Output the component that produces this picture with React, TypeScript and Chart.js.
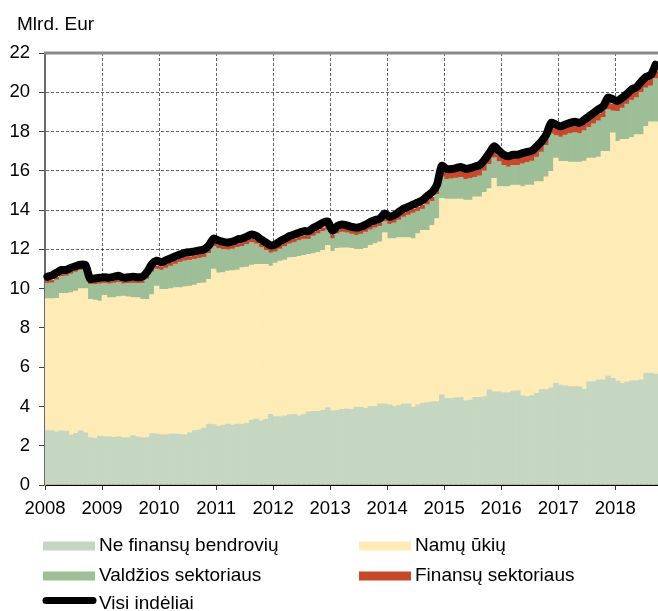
import React, { useEffect, useRef } from 'react';
import { Chart, registerables } from 'chart.js';

Chart.register(...registerables);

const FONT = '"Liberation Sans", Arial, Helvetica, sans-serif';

const years = ['2008', '2009', '2010', '2011', '2012', '2013', '2014', '2015', '2016', '2017', '2018'];
const monthsLastYear = 9;

const seriesNames = ['Ne finansų bendrovių', 'Namų ūkių', 'Valdžios sektoriaus', 'Finansų sektoriaus', 'Visi indėliai'];
const yAxisTitle = 'Mlrd. Eur';

// Ne finansų bendrovių (bn EUR), monthly Jan 2008 – Sep 2018
const neFinansuBendroviu = [
  2.77, 2.77, 2.71, 2.76, 2.74, 2.55, 2.63, 2.76, 2.66, 2.41, 2.38, 2.49,
  2.46, 2.46, 2.43, 2.46, 2.41, 2.41, 2.51, 2.45, 2.41, 2.41, 2.62, 2.60,
  2.56, 2.56, 2.60, 2.60, 2.58, 2.56, 2.66, 2.77, 2.80, 2.90, 3.10, 3.08,
  3.00, 3.05, 3.10, 3.05, 3.10, 3.10, 3.15, 3.30, 3.36, 3.26, 3.35, 3.60,
  3.48, 3.48, 3.52, 3.58, 3.60, 3.52, 3.60, 3.72, 3.75, 3.75, 3.80, 3.94,
  3.77, 3.80, 3.85, 3.87, 3.85, 3.96, 3.96, 3.91, 4.00, 4.00, 4.13, 4.13,
  4.08, 4.00, 4.05, 4.13, 4.13, 3.96, 4.08, 4.16, 4.20, 4.24, 4.25, 4.60,
  4.41, 4.41, 4.44, 4.46, 4.29, 4.32, 4.46, 4.46, 4.50, 4.84, 4.75, 4.75,
  4.70, 4.70, 4.78, 4.80, 4.55, 4.50, 4.55, 4.67, 4.87, 4.87, 4.95, 5.18,
  5.09, 5.05, 5.01, 5.01, 5.00, 4.87, 5.26, 5.26, 5.35, 5.35, 5.55, 5.43,
  5.30, 5.18, 5.25, 5.31, 5.31, 5.35, 5.69, 5.69, 5.65,
];

// Namų ūkių
const namuUkiu = [
  6.72, 6.72, 6.79, 7.00, 7.02, 7.25, 7.25, 7.24, 7.34, 7.04, 7.04, 6.88,
  7.20, 7.08, 7.11, 7.14, 7.21, 7.17, 7.03, 7.09, 7.04, 7.04, 7.08, 7.53,
  7.40, 7.40, 7.40, 7.45, 7.47, 7.54, 7.47, 7.41, 7.47, 7.40, 7.37, 7.92,
  7.80, 7.77, 7.80, 7.87, 7.85, 7.97, 7.95, 7.90, 7.88, 7.98, 7.89, 7.55,
  7.82, 7.92, 7.93, 8.00, 8.00, 8.13, 8.10, 8.03, 8.03, 8.10, 8.15, 8.26,
  8.13, 8.25, 8.23, 8.21, 8.20, 8.04, 8.04, 8.14, 8.20, 8.30, 8.25, 8.72,
  8.47, 8.55, 8.55, 8.47, 8.47, 8.59, 8.72, 8.81, 8.77, 8.99, 9.32, 10.00,
  10.15, 10.15, 10.12, 10.10, 10.22, 10.19, 10.22, 10.22, 10.40, 10.26, 10.87, 10.45,
  10.50, 10.50, 10.50, 10.48, 10.65, 10.78, 10.73, 10.78, 10.58, 10.83, 11.02, 11.47,
  11.39, 11.43, 11.44, 11.44, 11.45, 11.63, 11.39, 11.39, 11.35, 11.64, 11.44, 12.50,
  12.20, 12.42, 12.35, 12.39, 12.54, 12.50, 12.58, 12.81, 12.85,
];

// Valdžios sektoriaus
const valdziosSektoriaus = [
  0.79, 0.81, 0.95, 0.86, 0.89, 0.95, 0.97, 0.95, 0.95, 0.77, 0.80, 0.88,
  0.62, 0.71, 0.74, 0.72, 0.63, 0.69, 0.74, 0.73, 0.83, 1.05, 1.15, 0.87,
  0.99, 1.09, 1.15, 1.20, 1.30, 1.32, 1.32, 1.32, 1.28, 1.30, 1.33, 1.15,
  1.25, 1.18, 1.08, 1.10, 1.15, 1.08, 1.15, 1.15, 1.04, 0.86, 0.71, 0.67,
  0.58, 0.62, 0.70, 0.70, 0.75, 0.80, 0.82, 0.77, 0.90, 0.95, 0.97, 0.80,
  0.65, 0.75, 0.80, 0.77, 0.73, 0.72, 0.78, 0.83, 0.80, 0.80, 0.80, 0.57,
  0.73, 0.80, 0.90, 1.05, 1.15, 1.30, 1.15, 1.08, 1.31, 1.22, 1.23, 1.10,
  1.01, 1.04, 1.07, 1.11, 1.06, 1.10, 0.99, 1.07, 1.10, 1.23, 1.05, 1.27,
  1.08, 1.00, 1.00, 1.00, 1.16, 1.15, 1.22, 1.25, 1.51, 1.60, 1.91, 1.15,
  1.24, 1.34, 1.45, 1.50, 1.45, 1.55, 1.57, 1.75, 1.85, 1.73, 2.13, 1.12,
  1.53, 1.60, 1.80, 1.90, 1.88, 2.15, 1.96, 1.83, 2.20,
];

// Finansų sektoriaus
const finansuSektoriaus = [
  0.12, 0.12, 0.13, 0.12, 0.12, 0.13, 0.12, 0.12, 0.13, 0.11, 0.10, 0.10,
  0.10, 0.10, 0.11, 0.10, 0.10, 0.11, 0.10, 0.10, 0.11, 0.12, 0.15, 0.15,
  0.17, 0.18, 0.18, 0.18, 0.19, 0.18, 0.18, 0.18, 0.19, 0.18, 0.18, 0.20,
  0.18, 0.18, 0.19, 0.18, 0.18, 0.18, 0.19, 0.18, 0.18, 0.18, 0.18, 0.20,
  0.18, 0.18, 0.18, 0.19, 0.18, 0.18, 0.18, 0.18, 0.19, 0.18, 0.18, 0.18,
  0.18, 0.18, 0.18, 0.18, 0.19, 0.18, 0.18, 0.18, 0.18, 0.19, 0.18, 0.20,
  0.20, 0.20, 0.20, 0.21, 0.20, 0.20, 0.20, 0.21, 0.20, 0.20, 0.22, 0.25,
  0.33, 0.34, 0.35, 0.34, 0.35, 0.35, 0.34, 0.35, 0.35, 0.36, 0.35, 0.35,
  0.35, 0.35, 0.35, 0.36, 0.35, 0.35, 0.35, 0.35, 0.36, 0.35, 0.35, 0.35,
  0.35, 0.35, 0.36, 0.35, 0.35, 0.35, 0.35, 0.36, 0.35, 0.35, 0.35, 0.35,
  0.35, 0.36, 0.35, 0.35, 0.35, 0.35, 0.36, 0.35, 0.35,
];

// Visi indėliai (total deposits line)
const visiIndeliai = [
  10.60, 10.68, 10.82, 10.95, 10.95, 11.07, 11.15, 11.22, 11.20, 10.50, 10.52, 10.55,
  10.58, 10.56, 10.60, 10.66, 10.56, 10.58, 10.60, 10.58, 10.60, 10.85, 11.25, 11.42,
  11.35, 11.45, 11.55, 11.65, 11.75, 11.82, 11.86, 11.90, 11.95, 12.00, 12.20, 12.55,
  12.45, 12.38, 12.35, 12.40, 12.50, 12.55, 12.65, 12.76, 12.68, 12.50, 12.34, 12.20,
  12.25, 12.42, 12.54, 12.68, 12.76, 12.85, 12.93, 12.93, 13.10, 13.22, 13.36, 13.42,
  12.95, 13.19, 13.27, 13.22, 13.15, 13.10, 13.15, 13.26, 13.40, 13.49, 13.57, 13.83,
  13.66, 13.74, 13.91, 14.08, 14.17, 14.29, 14.39, 14.51, 14.73, 14.92, 15.30, 16.25,
  16.10, 16.09, 16.14, 16.20, 16.10, 16.14, 16.22, 16.30, 16.56, 16.90, 17.25, 17.03,
  16.82, 16.74, 16.82, 16.82, 16.90, 16.96, 17.03, 17.25, 17.50, 17.85, 18.44, 18.36,
  18.27, 18.36, 18.44, 18.50, 18.44, 18.60, 18.78, 18.96, 19.13, 19.30, 19.73, 19.64,
  19.56, 19.73, 19.93, 20.15, 20.27, 20.55, 20.79, 20.89, 21.40,
];

const yMin = 0;
const yMax = 22;
const yStep = 2;

const COLORS = ['#c5d6c1', '#feebb6', '#9dbe97', '#c9472a', '#000000'];

const monthLabels: string[] = [];
years.forEach((y, yi) => {
  const n = yi === years.length - 1 ? monthsLastYear : 12;
  for (let m = 1; m <= n; m++) monthLabels.push(`${y}-${String(m).padStart(2, '0')}`);
});

const decorPlugin = {
  id: 'decor',
  afterDraw(chart: any) {
    const { ctx, chartArea } = chart;
    ctx.save();
    // top frame line
    ctx.strokeStyle = '#8a8a8a';
    ctx.lineWidth = 3;
    ctx.beginPath();
    ctx.moveTo(chartArea.left - 1, chartArea.top);
    ctx.lineTo(chartArea.right, chartArea.top);
    ctx.stroke();

    ctx.font = `19px ${FONT}`;
    ctx.fillStyle = '#000';
    ctx.textBaseline = 'middle';
    ctx.textAlign = 'left';
    ctx.fillText(yAxisTitle, 17, 25);

    // legend
    const items = [
      { i: 0, x: 43, y: 545.5, kind: 'box' },
      { i: 1, x: 359, y: 545.5, kind: 'box' },
      { i: 2, x: 43, y: 575.5, kind: 'box' },
      { i: 3, x: 359, y: 575.5, kind: 'box' },
      { i: 4, x: 43, y: 603.5, kind: 'line' },
    ];
    items.forEach((it) => {
      if (it.kind === 'box') {
        ctx.fillStyle = COLORS[it.i];
        ctx.fillRect(it.x, it.y - 4, 52, 9);
      } else {
        ctx.strokeStyle = '#000';
        ctx.lineWidth = 7;
        ctx.lineCap = 'round';
        ctx.beginPath();
        ctx.moveTo(it.x + 3, it.y - 3);
        ctx.lineTo(it.x + 50, it.y - 3);
        ctx.stroke();
      }
      ctx.fillStyle = '#000';
      ctx.fillText(seriesNames[it.i], it.x + 56, it.y);
    });
    ctx.restore();
  },
};

export default function App() {
  const ref = useRef<HTMLCanvasElement | null>(null);

  useEffect(() => {
    if (!ref.current) return;
    Chart.defaults.font.family = FONT;
    const gridColor = 'rgba(0,0,0,0.6)';
    const chart = new Chart(ref.current, {
      type: 'bar',
      data: {
        labels: monthLabels,
        datasets: [
          { label: seriesNames[0], data: neFinansuBendroviu, backgroundColor: COLORS[0], stack: 's', order: 1 },
          { label: seriesNames[1], data: namuUkiu, backgroundColor: COLORS[1], stack: 's', order: 1 },
          { label: seriesNames[2], data: valdziosSektoriaus, backgroundColor: COLORS[2], stack: 's', order: 1 },
          { label: seriesNames[3], data: finansuSektoriaus, backgroundColor: COLORS[3], stack: 's', order: 1 },
          {
            type: 'line',
            label: seriesNames[4],
            data: visiIndeliai,
            borderColor: COLORS[4],
            backgroundColor: COLORS[4],
            borderWidth: 8,
            pointRadius: 0,
            tension: 0.25,
            borderJoinStyle: 'round',
            borderCapStyle: 'round',
            stack: 'total',
            order: 0,
          } as any,
        ],
      },
      options: {
        responsive: false,
        animation: false,
        devicePixelRatio: 1,
        layout: { padding: { top: 53, left: 0, right: 0, bottom: 86 } },
        datasets: { bar: { barPercentage: 1, categoryPercentage: 1, borderWidth: 0 } },
        plugins: { legend: { display: false }, tooltip: { enabled: false } },
        scales: {
          x: { display: false, stacked: true, offset: true },
          x2: {
            type: 'linear',
            axis: 'x',
            position: 'bottom',
            offset: false,
            min: 0,
            max: monthLabels.length,
            afterBuildTicks: (s: any) => {
              s.ticks = years.map((_, i) => ({ value: i * 12 }));
            },
            afterFit: (s: any) => {
              s.height = 40;
            },
            ticks: {
              autoSkip: false,
              maxRotation: 0,
              padding: 8,
              color: '#000',
              font: { size: 18.5, family: FONT },
              callback: (v: any) => years[Math.round(Number(v) / 12)],
            },
            grid: {
              offset: false,
              color: (c: any) => (c.tick && c.tick.value === 0 ? 'rgba(0,0,0,0)' : gridColor),
              lineWidth: 1,
              tickLength: 5,
              tickColor: '#333',
              drawTicks: true,
            },
            border: { display: true, color: '#000', width: 2, dash: [3, 2] },
            z: 1,
          } as any,
          y: {
            stacked: true,
            min: yMin,
            max: yMax,
            afterFit: (s: any) => {
              s.width = 45;
            },
            ticks: {
              stepSize: yStep,
              padding: 9,
              color: '#000',
              font: { size: 18.5, family: FONT },
            },
            grid: {
              color: (c: any) => (c.tick && (c.tick.value === yMin || c.tick.value === yMax) ? 'rgba(0,0,0,0)' : gridColor),
              lineWidth: 1,
              tickLength: 6,
              tickColor: '#444',
            },
            border: { display: true, color: '#6a6a6a', width: 2, dash: [3, 2] },
            z: 1,
          } as any,
        },
      },
      plugins: [decorPlugin],
    });
    return () => chart.destroy();
  }, []);

  return (
    <div style={{ position: 'absolute', left: 0, top: 0, width: 658, height: 611, overflow: 'hidden', background: '#fff' }}>
      <canvas ref={ref} width={658} height={611} style={{ display: 'block' }} />
    </div>
  );
}
